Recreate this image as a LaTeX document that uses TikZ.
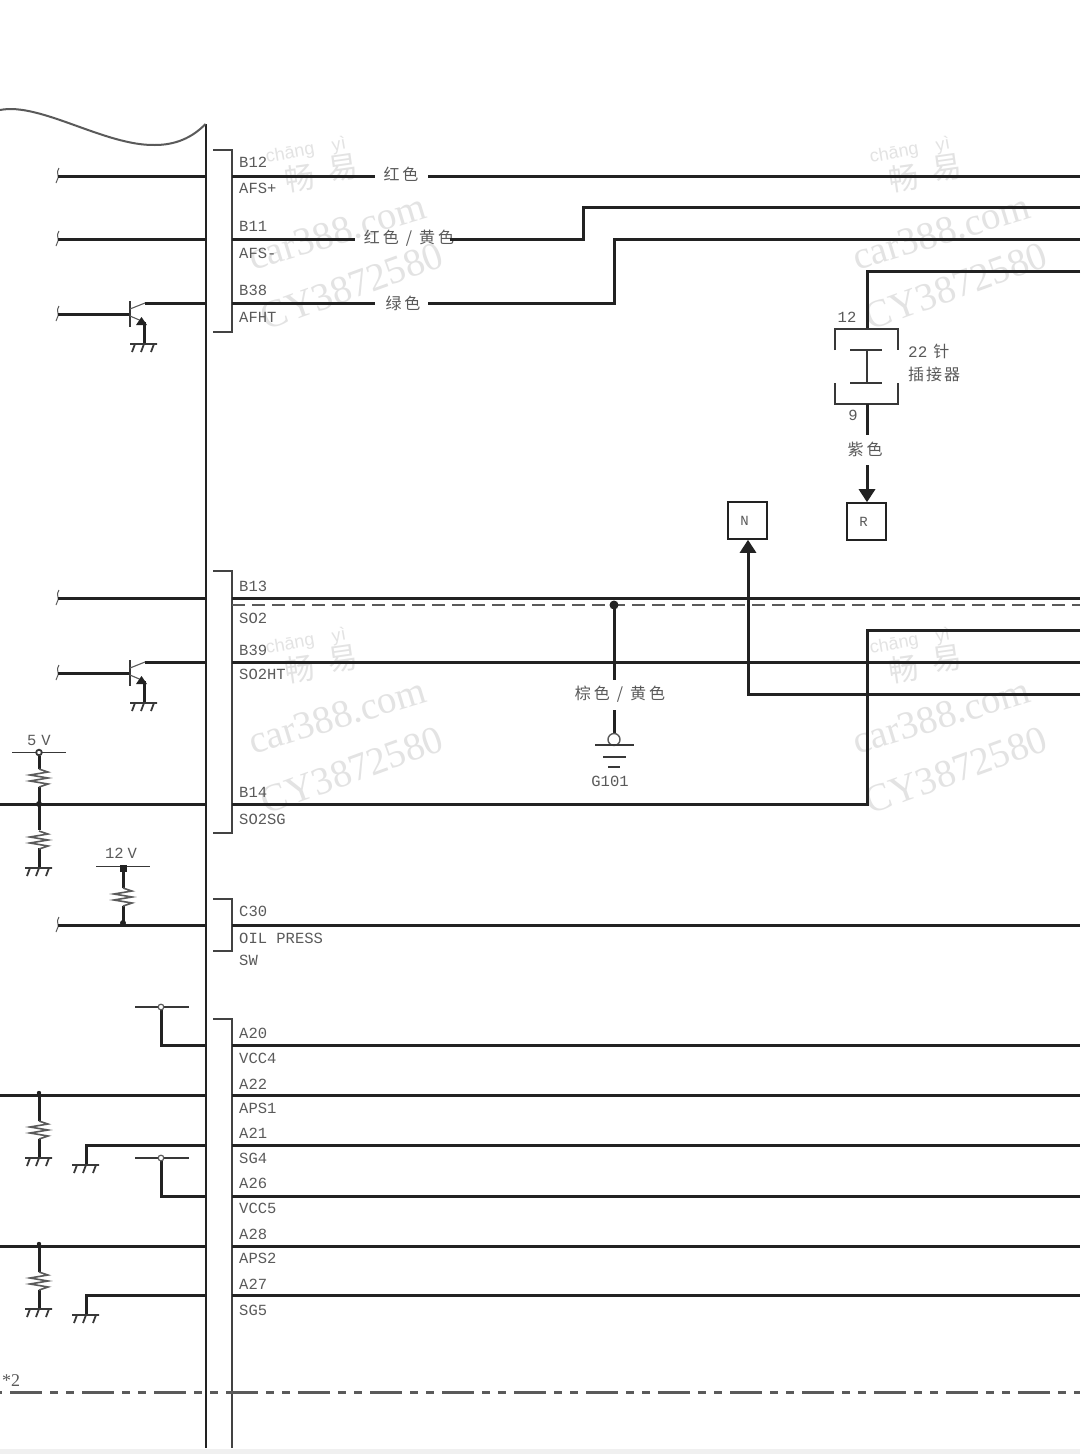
\documentclass[tikz,border=0pt]{standalone}
\usepackage{fontspec}
\setmainfont{Liberation Serif}
\newfontfamily\pinfont{Liberation Mono}
\newfontfamily\cjk{Noto Sans CJK SC}
\newfontfamily\wmsans{Liberation Sans}
\usetikzlibrary{arrows.meta}
\definecolor{txt}{HTML}{5A5A5A}
\definecolor{wm}{HTML}{E3E3E3}
\definecolor{wire}{HTML}{222222}
\tikzset{
  wireline/.style={draw=wire,line width=3pt},
  thinline/.style={draw=wire!90!white,line width=1.8pt},
  body/.style={draw=wire,line width=2pt},
  pinlabel/.style={anchor=west,inner sep=0pt,text=txt,font=\pinfont\fontsize{15.5}{15.5}\selectfont},
  cnlabel/.style={inner sep=0pt,text=txt,font=\cjk\fontsize{16}{16}\selectfont},
  smalllabel/.style={inner sep=0pt,text=txt,font=\pinfont\fontsize{15.5}{15.5}\selectfont},
  boxnode/.style={draw=wire,line width=1.6pt,minimum width=39pt,minimum height=37pt,inner sep=0pt,text=txt,font=\pinfont\fontsize{14}{14}\selectfont},
  wmlarge/.style={inner sep=0pt,text=wm,font=\fontsize{39}{39}\selectfont},
  wmsmall/.style={inner sep=0pt,text=wm,font=\wmsans\fontsize{18}{18}\selectfont,rotate=10},
  wmcn/.style={inner sep=0pt,text=wm,font=\cjk\fontsize{30}{30}\selectfont},
  ground/.pic={\draw[thinline] (-14,0)--(13,0) (-9,0)--(-12,8) (0,0)--(-3,8) (10,0)--(7,8);},
  resistor/.pic={\draw[draw=txt,line width=1.6pt] (0,0)--(9,3)--(-9,6)--(9,9)--(-9,12)--(9,15)--(0,18);},
  wirebreak/.pic={\draw[draw=txt,line width=1pt] (1,-8) .. controls (-2,-4) and (1,0) .. (0,2) .. controls (0,4) and (-2,5) .. (-2,7);},
}
% block key, chang x,y, car y, cy y
\newcommand{\wmblock}[4]{%
  \node[wmsmall] (wa#4) at (#1+7,#2) {ch\=ang\quad y\`i};
  \node[wmcn,rotate=8] (wb#4) at (#1+1,#2+27) {畅};
  \node[wmcn,rotate=8] (wc#4) at (#1+44,#2+17) {易};
  \node[wmlarge,rotate=17] (wd#4) at (#1+38,#3) {car388.com};
  \node[wmlarge,rotate=20] (we#4) at (#1+53,#3+54) {CY3872580};
}
\begin{document}
\begin{tikzpicture}[x=1pt,y=-1pt]
\useasboundingbox (0,0) rectangle (1080,1454);
\fill[white] (0,0) rectangle (1080,1454);
\fill[black!6] (0,1449) rectangle (1080,1454);
% watermarks
\wmblock{299}{151}{232}{p}
\wmblock{903}{151}{232}{q}
\wmblock{299}{642}{716}{r}
\wmblock{903}{642}{716}{s}
% named points
\foreach \n/\y in {b12/176,b11/239,b38/303,b13/598,b39/662,b14/804,c30/925,a20/1045,a22/1095,a21/1145,a26/1196,a28/1246,a27/1295}{
  \coordinate (L\n) at (205,\y);
  \coordinate (R\n) at (232,\y);
  \coordinate (E\n) at (1080,\y);
}
\foreach \n/\y in {b12/176,b11/239,b13/598,c30/925}{
  \coordinate (S\n) at (58,\y);
  \pic at (S\n) {wirebreak};
}
% casing
\coordinate (bt) at (205.5,124); \coordinate (bb) at (205.5,1448);
\coordinate (ct) at (0,110);
\draw[body] (bt)--(bb);
\draw[draw=txt,line width=2pt] (ct) .. controls (40,102) and (105,146) .. (155,145) .. controls (175,145) and (192,138) .. (bt);
% brackets
\foreach \a/\b in {150/332,571/833,899/951}{
  \draw[body,draw=wire!85!white] (213,\a)--(232,\a)--(232,\b)--(213,\b);
}
\draw[body,draw=wire!85!white] (213,1019)--(232,1019)--(232,1448);
% pin labels
\foreach \n/\y/\t in {a/162/B12,b/188/AFS+,c/226/B11,d/253/AFS-,e/290/B38,f/317/AFHT,g/586/B13,h/618/SO2,i/650/B39,j/674/SO2HT,k/792/B14,l/819/SO2SG,m/911/C30,n/938/OIL PRESS,o/960/SW,p/1033/A20,q/1058/VCC4,r/1084/A22,s/1108/APS1,t/1133/A21,u/1158/SG4,v/1183/A26,w/1208/VCC5,x/1234/A28,y/1258/APS2,z/1284/A27,A/1310/SG5}{
  \node[pinlabel] (pin\n) at (239,\y) {\t};
}
% colour labels
\node[cnlabel] (red) at (401,174) {红\kern3pt色};
\node[cnlabel] (redyel) at (409,238) {红\kern3pt色\kern7pt/\kern7pt黄\kern3pt色};
\node[cnlabel] (green) at (403,303) {绿\kern3pt色};
\node[cnlabel] (purple) at (865,449) {紫\kern3pt色};
\node[cnlabel] (brown) at (620,694) {棕\kern3pt色\kern7pt/\kern7pt黄\kern3pt色};
% top wires
\coordinate (r1) at (375,176); \coordinate (r2) at (428,176);
\draw[wireline] (Sb12)--(Lb12) (Rb12)--(r1) (r2)--(Eb12);
\coordinate (ry1) at (355,239); \coordinate (ry2) at (450,239);
\draw[wireline] (Sb11)--(Lb11) (Rb11)--(ry1);
\coordinate (w1a) at (583,239); \coordinate (w1b) at (583,207); \coordinate (w1c) at (1080,207);
\draw[wireline] (ry2)--(w1a)--(w1b)--(w1c);
\coordinate (w2a) at (614,303); \coordinate (w2b) at (614,239); \coordinate (w2c) at (1080,239);
\coordinate (g1) at (375,303); \coordinate (g2) at (428,303);
\draw[wireline] (Rb38)--(g1) (g2)--(w2a)--(w2b)--(w2c);
% transistors
\foreach \k/\yb/\yc in {u/314/303,v/673/662}{
  \coordinate (Tb\k) at (130,\yb);
  \coordinate (Tc\k) at (145,\yc);
  \coordinate (Te\k) at (144,\yb+8);
  \coordinate (Tg\k) at (144,\yb+30);
  \coordinate (Ts\k) at (58,\yb);
  \pic at (Ts\k) {wirebreak};
  \draw[wireline] (Ts\k)--(Tb\k);
  \draw[thinline] (130,\yb-13)--(130,\yb+13);
  \draw[draw=txt,line width=1.1pt] (130,\yb-5)--(Tc\k);
  \draw[draw=txt,line width=1.1pt] (130,\yb+2)--(Te\k);
  \draw[wire,line width=3pt] (Te\k)--(Tg\k);
  \fill[wire] (136,\yb+11)--(141.5,\yb+3)--(147,\yb+11)--cycle;
  \pic at (Tg\k) {ground};
}
\draw[wireline] (Tcu)--(Lb38);
\draw[wireline] (Tcv)--(Lb39);
% 22 pin connector
\coordinate (c1) at (867,271); \coordinate (c2) at (867,329); \coordinate (c3) at (1080,271);
\draw[wireline] (c3)--(c1)--(c2);
\draw[thinline] (835,350)--(835,329)--(898,329)--(898,350);
\draw[thinline] (835,383)--(835,404)--(898,404)--(898,383);
\draw[thinline] (850,350)--(882,350) (850,383)--(882,383);
\draw[thinline] (867,350)--(867,383);
\node[smalllabel] (n12) at (847,317) {12};
\node[smalllabel] (n9) at (853,415) {9};
\node[cnlabel,anchor=west] (n22) at (908,351) {\pinfont 22\kern6pt\cjk 针};
\node[cnlabel,anchor=west] (nins) at (908,374) {插\kern2pt接\kern2pt器};
\node[boxnode] (R) at (866.5,521.5) {\kern-6pt R};
\node[boxnode] (N) at (747.5,520.5) {\kern-6pt N};
\coordinate (c4) at (867,404); \coordinate (c5) at (867,435); \coordinate (c6) at (867,465);
\draw[wireline] (c4)--(c5);
\draw[wireline,-{Triangle[length=13pt,width=16pt]}] (c6)--(R.north -| c6);
\coordinate (n1) at (1080,694); \coordinate (n2) at (748,694);
\draw[wireline,-{Triangle[length=13pt,width=16pt]}] (n1)--(n2)--(n2 |- N.south);
% sensor wires
\draw[wireline] (Sb13)--(Lb13) (Rb13)--(Eb13);
\coordinate (d1) at (232,605); \coordinate (d2) at (1080,605); \coordinate (j1) at (614,605);
\draw[draw=txt,line width=2pt,dash pattern=on 13pt off 7pt] (d1)--(d2);
\fill[wire] (j1) circle (4.5);
\coordinate (j2) at (614,680); \coordinate (j3) at (614,710); \coordinate (j4) at (614,734);
\draw[wireline] (j1)--(j2) (j3)--(j4);
\draw[draw=txt,line width=1.4pt] (614,739.5) circle (6);
\draw[thinline] (595,745)--(634,745);
\draw[thinline] (603,757)--(626,757);
\draw[thinline] (608,767)--(620,767);
\node[smalllabel] (g101) at (610,781) {G101};
\draw[wireline] (Rb39)--(Eb39);
\coordinate (o1) at (0,804); \coordinate (o2) at (867,804); \coordinate (o3) at (867,630); \coordinate (o4) at (1080,630);
\draw[wireline] (o1)--(Lb14) (Rb14)--(o2)--(o3)--(o4);
% 5 V network
\node[smalllabel] (v5) at (39,740) {5\kern5pt V};
\draw[thinline] (12,752.5)--(66,752.5);
\draw[wireline] (39,756)--(39,769) (39,787)--(39,830) (39,848)--(39,868);
\pic at (39,769) {resistor};
\pic at (39,831) {resistor};
\pic at (39,868) {ground};
\draw[thinline,fill=white] (39,752.5) circle (2.8);
\fill[wire] (39,804) circle (3);
% 12 V network
\node[smalllabel] (v12) at (121,853) {12\kern4pt V};
\draw[thinline] (96,866.5)--(150,866.5);
\fill[wire] (119.5,865) rectangle (127,872);
\draw[wireline] (123,870)--(123,888) (123,906)--(123,925);
\pic at (123,888) {resistor};
\fill[wire] (123,923) circle (3);
\draw[wireline] (Sc30)--(Lc30) (Rc30)--(Ec30);
% A row
\foreach \y/\n in {1007/a20,1158/a26}{
  \draw[thinline] (135,\y)--(189,\y);
  \draw[wireline] (161,\y)--(161,\y+38)--(L\n);
  \draw[draw=txt,line width=1.2pt,fill=white] (161,\y) circle (2.8);
}
\draw[wireline] (Ra20)--(Ea20) (Ra22)--(Ea22) (Ra21)--(Ea21) (Ra26)--(Ea26) (Ra28)--(Ea28) (Ra27)--(Ea27);
\foreach \n/\y in {a22/1095,a28/1246}{
  \coordinate (X\n) at (0,\y);
  \draw[wireline] (X\n)--(L\n);
  \draw[wireline] (39,\y-2)--(39,\y+26) (39,\y+44)--(39,\y+63);
  \fill[wire] (39,\y-2) circle (2.2);
  \pic at (39,\y+26) {resistor};
  \pic at (39,\y+63) {ground};
}
\foreach \n/\y in {a21/1145,a27/1295}{
  \coordinate (Y\n) at (86,\y);
  \draw[wireline] (L\n)--(Y\n)--(86,\y+20);
  \pic at (86,\y+20) {ground};
}
% dash-dot line
\coordinate (dd1) at (0,1392); \coordinate (dd2) at (1080,1392);
\draw[draw=txt,line width=3pt,dash pattern=on 32pt off 8pt on 8pt off 8pt on 8pt off 8pt,dash phase=62pt] (dd1)--(dd2);
\node[inner sep=0pt,text=txt,font=\fontsize{18}{18}\selectfont] (star) at (11,1381) {*2};
\end{tikzpicture}
\end{document}
